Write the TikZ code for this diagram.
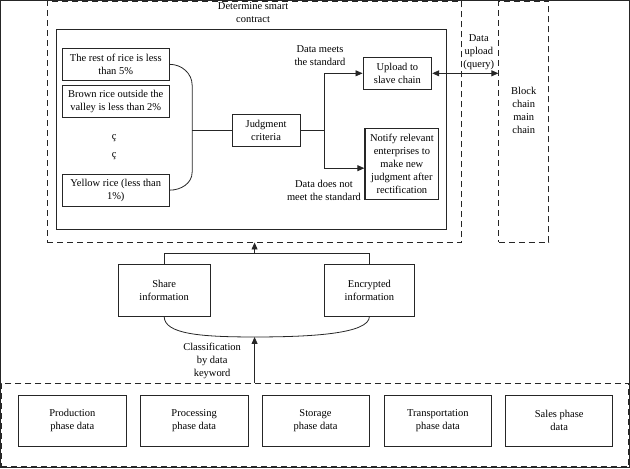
\documentclass[tikz,border=0pt]{standalone}
\usepackage{fontspec}
\setmainfont{Liberation Serif}
\usetikzlibrary{arrows.meta}
\begin{document}
\begin{tikzpicture}[x=1pt,y=-1pt,
  font=\fontsize{10.5}{13}\selectfont,
  every path/.style={line width=0.8pt, draw=black!85},
  box/.style={draw, line width=0.8pt, inner sep=0pt, align=center},
  dbox/.style={draw, line width=0.8pt, inner sep=0pt, dash pattern=on 6pt off 4pt},
  txt/.style={inner sep=0pt, align=center},
  arr/.style={-{Triangle[length=7pt,width=6pt]}},
  darr/.style={{Triangle[length=7pt,width=6pt]}-{Triangle[length=7pt,width=6pt]}}]
\useasboundingbox (0,0) rectangle (630,468);

% top part
\node[dbox, minimum width=415pt, minimum height=241pt] (contract) at (254.5,121.5) {};
\node[txt] (title) at (253,12.5) {Determine smart\\contract};
\node[box, minimum width=391pt, minimum height=200pt] (inner) at (251.5,129) {};

\node[box, minimum width=107pt, minimum height=32pt] (r1) at (115.5,64) {The rest of rice is less\\than 5\%};
\node[box, minimum width=107pt, minimum height=32pt] (r2) at (115.5,101) {Brown rice outside the\\valley is less than 2\%};
\node[txt] (d1) at (114,138) {ç};
\node[txt] (d2) at (114,156) {ç};
\node[box, minimum width=107pt, minimum height=32pt] (r3) at (115.5,190) {Yellow rice (less than\\1\%)};

\node[box, minimum width=68pt, minimum height=32pt] (judg) at (266,130) {Judgment\\criteria};
\node[box, minimum width=69pt, minimum height=32pt] (upl) at (397.5,73) {Upload to\\slave chain};
\node[box, line width=1.2pt, minimum width=74pt, minimum height=71pt] (notify) at (402,163.5) {Notify relevant\\enterprises to\\make new\\judgment after\\rectification};

\node[txt] (meets) at (320,55) {Data meets\\the standard};
\node[txt] (notmeet) at (324,190) {Data does not\\meet the standard};

\node[dbox, minimum width=50pt, minimum height=241pt] (block) at (524,121.5) {};
\node[txt] (blocktxt) at (524,110) {Block\\chain\\main\\chain};
\node[txt] (uptxt) at (479,52) {Data\\upload\\(query)};

\coordinate (bm) at (192,130);
\coordinate (split) at (324,130);
\draw (r1.east) to[out=0,in=90] (192,85) -- (192,172) to[out=-90,in=0] (r3.east);
\draw (bm) -- (judg.west);
\draw[arr] (judg.east) -- (split) |- (upl.west);
\draw[arr] (split) |- ([yshift=-4.5pt]notify.west);
\draw[darr] (upl.east) -- (upl.east -| block.west);

% middle part
\node[box, minimum width=92pt, minimum height=52pt] (share) at (164,290) {Share\\information};
\node[box, minimum width=91pt, minimum height=52pt] (enc) at (369.5,290) {Encrypted\\information};
\coordinate (mtop) at (254.5,253);
\coordinate (cl) at (254.5,337);
\draw (share.north) |- (mtop) -| (enc.north);
\draw[arr] (mtop) -- (contract.south);
\draw (share.south) .. controls (164,334) and (200,337) .. (cl) .. controls (310,337) and (369.5,334) .. (enc.south);
\node[txt] (classif) at (212,361) {Classification\\by data\\keyword};

% bottom part
\node[dbox, minimum width=628pt, minimum height=84pt] (phases) at (315,425) {};
\draw[arr] (phases.north -| cl) -- (cl);
\node[box, minimum width=108pt, minimum height=52pt] (p1) at (72,421) {Production\\phase data};
\node[box, minimum width=108pt, minimum height=52pt] (p2) at (194,421) {Processing\\phase data};
\node[box, minimum width=107pt, minimum height=52pt] (p3) at (315.5,421) {Storage\\phase data};
\node[box, minimum width=108pt, minimum height=52pt] (p4) at (438,421) {Transportation\\phase data};
\node[box, minimum width=107pt, minimum height=52pt] (p5) at (559.5,421) {Sales phase\\data};
\end{tikzpicture}
\end{document}
